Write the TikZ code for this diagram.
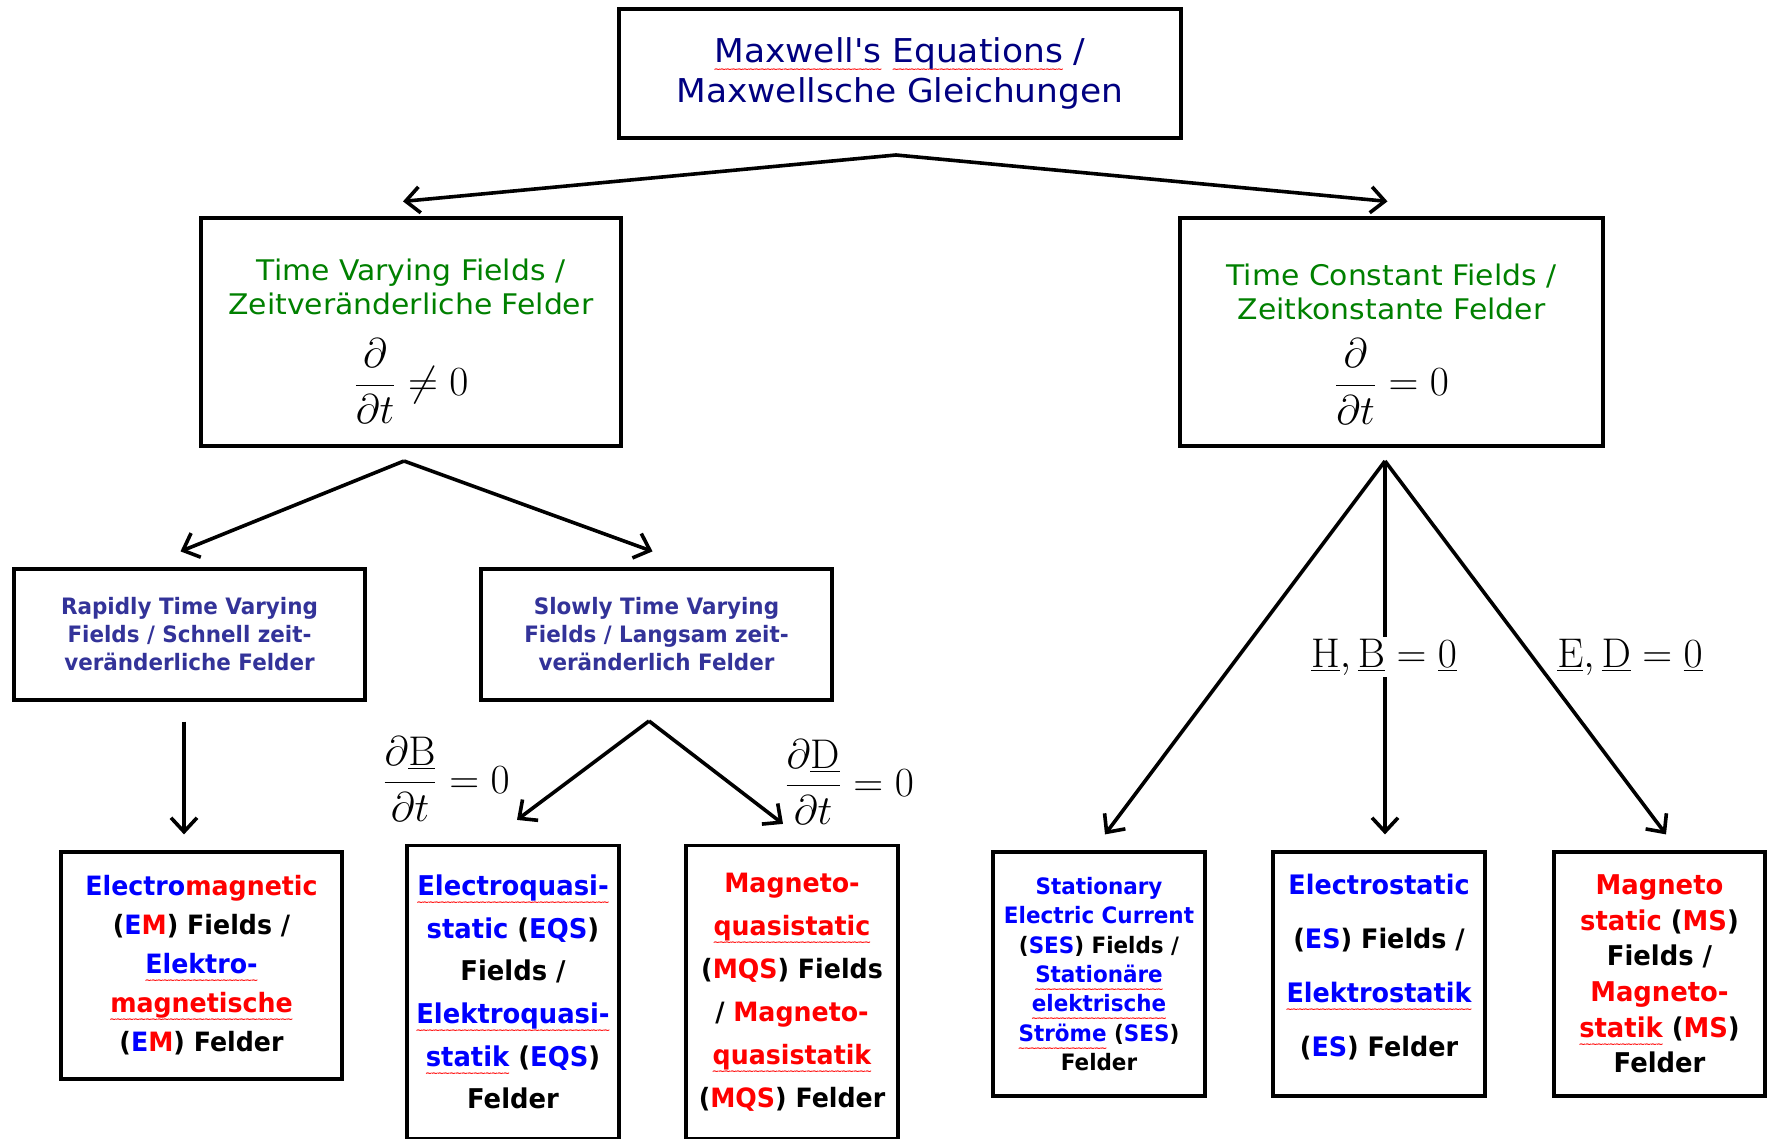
\documentclass[tikz,border=0pt]{standalone}
\usepackage[no-math]{fontspec}
\setmainfont{DejaVu Sans}[FakeStretch=0.95]
\newfontfamily\wideF{DejaVu Sans}[FakeStretch=1.05]
\newfontfamily\wavefont{DejaVu Sans}
\usetikzlibrary{arrows.meta,calc}
\definecolor{navyT}{HTML}{000080}
\definecolor{greenT}{HTML}{008000}
\definecolor{slateT}{HTML}{333399}
\definecolor{blueT}{HTML}{0000FF}
\definecolor{redT}{HTML}{FF0000}
\newcommand\sq[1]{\setbox0\hbox{#1}\leavevmode\rlap{\textcolor{red}{\raise-5pt\hbox to\wd0{\wavefont\bfseries\fontsize{4.5}{5}\selectfont\xleaders\hbox{\kern-0.45pt\char"223C\kern-0.45pt}\hfill}}}\box0\relax}
\newcommand\blu[1]{\textcolor{blueT}{#1}}
\newcommand\rd[1]{\textcolor{redT}{#1}}
\begin{document}
\begin{tikzpicture}[x=0.5pt,y=-0.5pt,
  box/.style={draw, line width=1.6pt, inner sep=0pt, align=center},
  arr/.style={line width=1.8pt, -{Straight Barb[length=7pt,width=13pt]}},
  lbl/.style={inner sep=1pt}]
\useasboundingbox[fill=white] (0,0) rectangle (1771,1139);
% boxes
\node[box, minimum width=281pt, minimum height=64.5pt, text=navyT,
  font={\wideF\fontsize{16.4}{20}\selectfont}] (MAX) at (900,73.5)
  {\sq{Maxwell's} \sq{Equations} /\\ Maxwellsche Gleichungen};
\node[box, minimum width=210pt, minimum height=114pt, text=greenT,
  font={\wideF\fontsize{14.2}{17}\selectfont}] (TV) at (411,332)
  {\rule{0pt}{20pt}Time Varying Fields /\\ Zeitveränderliche Felder\\[11pt]
   {\color{black}\fontsize{20}{24}\selectfont $\displaystyle\frac{\partial}{\partial t}\neq 0$}};
\node[box, minimum width=211.5pt, minimum height=114pt, text=greenT,
  font={\wideF\fontsize{14.2}{17}\selectfont}] (TC) at (1391.5,332)
  {\rule{0pt}{23pt}Time Constant Fields /\\ Zeitkonstante Felder\\[8.5pt]
   {\color{black}\fontsize{20}{24}\selectfont $\displaystyle\frac{\partial}{\partial t}= 0$}};
\node[box, minimum width=175.5pt, minimum height=65.5pt, text=slateT,
  font={\fontsize{11.3}{14}\selectfont\bfseries}] (RAP) at (189.5,634.5)
  {Rapidly Time Varying\\ Fields / Schnell zeit-\\ veränderliche Felder};
\node[box, minimum width=175.5pt, minimum height=65.5pt, text=slateT,
  font={\fontsize{11.3}{14}\selectfont\bfseries}] (SLO) at (656.5,634.5)
  {Slowly Time Varying\\ Fields / Langsam zeit-\\ veränderlich Felder};
\node[box, minimum width=140.5pt, minimum height=113.5pt,
  font={\fontsize{13.3}{19.5}\selectfont\bfseries}] (EM) at (201.5,965.5)
  {\blu{Electro}\rd{magnetic}\\ (\blu{E}\rd{M}) Fields /\\ \blu{\sq{Elektro-}}\\
   \rd{\sq{magnetische}}\\ (\blu{E}\rd{M}) Felder};
\node[box, minimum width=106pt, minimum height=146.5pt,
  font={\fontsize{13.6}{21.3}\selectfont\bfseries}] (EQS) at (513,992)
  {\blu{\sq{Electroquasi-}}\\ \blu{static} (\blu{EQS})\\ Fields /\\
   \blu{\sq{Elektroquasi-}}\\ \blu{\sq{statik}} (\blu{EQS})\\ Felder};
\node[box, minimum width=106pt, minimum height=146.5pt,
  font={\fontsize{13.3}{21.5}\selectfont\bfseries}] (MQS) at (792,992)
  {\rd{Magneto-}\\ \rd{\sq{quasistatic}}\\ (\rd{MQS}) Fields\\
   / \rd{Magneto-}\\ \rd{\sq{quasistatik}}\\ (\rd{MQS}) Felder};
\node[box, minimum width=106pt, minimum height=122pt,
  font={\fontsize{11.3}{14.7}\selectfont\bfseries}] (SES) at (1099,974)
  {\blu{Stationary}\\ \blu{Electric Current}\\ (\blu{SES}) Fields /\\
   \blu{\sq{Stationäre}}\\ \blu{\sq{elektrische}}\\ \blu{\sq{Ströme}} (\blu{SES})\\ Felder};
\node[box, minimum width=106pt, minimum height=122pt,
  font={\fontsize{13.4}{27}\selectfont\bfseries}] (ES) at (1379,974)
  {\blu{Electrostatic}\\ (\blu{ES}) Fields /\\ \blu{\sq{Elektrostatik}}\\ (\blu{ES}) Felder\rule[-9pt]{0pt}{1pt}};
\node[box, minimum width=105.5pt, minimum height=122pt,
  font={\fontsize{13.6}{17.8}\selectfont\bfseries}] (MS) at (1659.5,974)
  {\rd{Magneto}\\ \rd{static} (\rd{MS})\\ Fields /\\ \rd{Magneto-}\\
   \rd{\sq{statik}} (\rd{MS})\\ Felder};
% apex coordinates
\coordinate (ap1) at (896,155);
\coordinate (ap2) at (404,461);
\coordinate (ap3) at (649,721);
\coordinate (ap4) at (1385,461);
% arrows
\draw[arr] (ap1) -- ($(TV.north)+(-8,-15)$);
\draw[arr] (ap1) -- ($(TC.north)+(-4,-15)$);
\draw[arr] (ap2) -- ($(RAP.north)+(-9,-16)$);
\draw[arr] (ap2) -- ($(SLO.north)+(-4,-16)$);
\draw[arr] ($(RAP.south)+(-5.5,20)$) -- ($(EM.north)+(-17.5,-16)$);
\draw[arr] (ap3) -- ($(EQS.north)+(4,-24)$);
\draw[arr] (ap3) -- ($(MQS.north)+(-9,-20)$);
\draw[arr] (ap4) -- ($(SES.north)+(6,-16)$);
\draw[arr] (ap4) -- ($(ES.north)+(6,-16)$);
\draw[arr] (ap4) -- ($(MS.north)+(6.5,-16)$);
% labels
\node[lbl] (dB) at (446,779) {\fontsize{20}{24}\selectfont $\displaystyle\frac{\partial\underline{\mathrm{B}}}{\partial t}=0$};
\node[lbl] (dD) at (849,782) {\fontsize{20}{24}\selectfont $\displaystyle\frac{\partial\underline{\mathrm{D}}}{\partial t}=0$};
\node[lbl, fill=white] (HB) at (1384,657) {\fontsize{20}{24}\selectfont $\underline{\mathrm{H}},\underline{\mathrm{B}}=\underline{0}$};
\node[lbl] (ED) at (1630,657) {\fontsize{20}{24}\selectfont $\underline{\mathrm{E}},\underline{\mathrm{D}}=\underline{0}$};
\end{tikzpicture}
\end{document}
